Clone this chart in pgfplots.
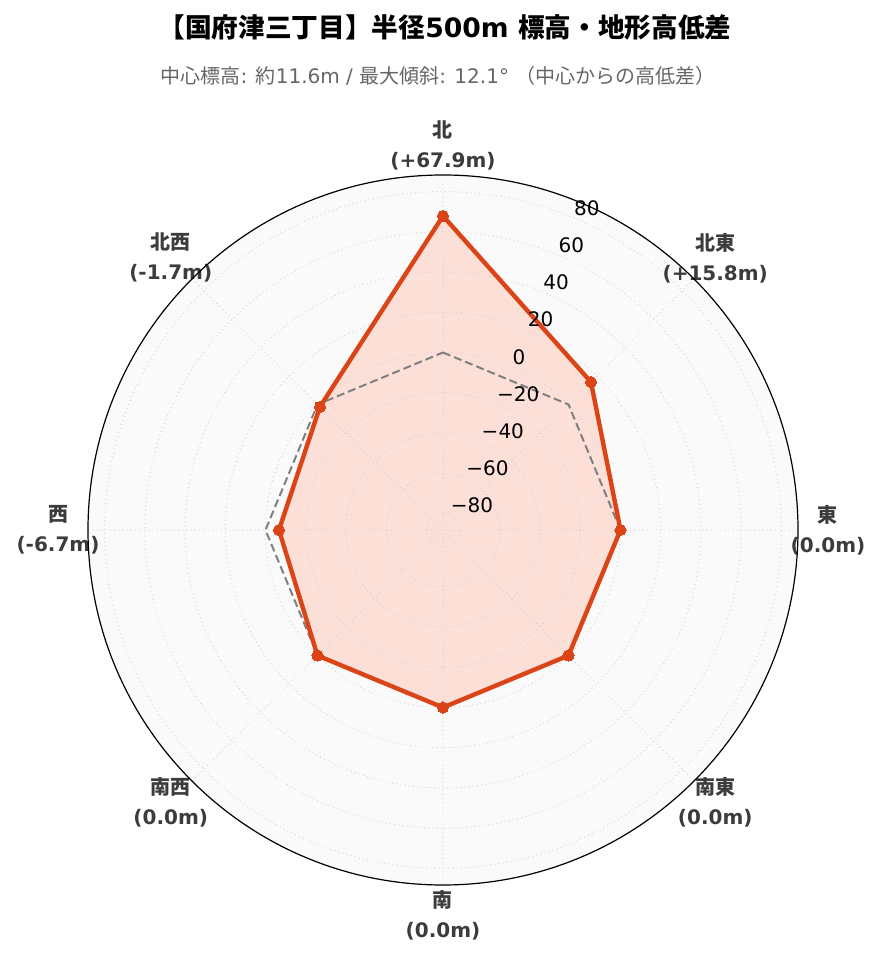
\documentclass[border=0pt]{standalone}
\usepackage{pgfplots}
\pgfplotsset{compat=1.18}
\usepackage{pgfplotstable}
\usepgfplotslibrary{polar}
\usepackage{fontspec}
\setmainfont{DejaVu Sans}
\newfontfamily\cjk{Noto Sans CJK JP}
\newcommand\J[1]{{\cjk #1}}
\definecolor{lineR}{RGB}{218,68,22}
\definecolor{fillR}{RGB}{252,224,216}
\definecolor{lab}{RGB}{60,60,60}
\definecolor{sub}{RGB}{102,102,102}
\definecolor{bg}{RGB}{250,250,250}
\definecolor{gridc}{RGB}{205,205,205}

\pgfplotstableread{
ang d
90 67.9
45 15.8
0 0.0
315 0.0
270 0.0
225 0.0
180 -6.7
135 -1.7
}\elev

\pgfplotstableread{
ang d
90 0
45 0
0 0
315 0
270 0
225 0
180 0
135 0
}\base

\pgfplotsset{radar/.style={
  at={(0,0)}, anchor=center,
  scale only axis, width=532.5pt, height=532.5pt,
  xmin=0, xmax=360, ymin=0, ymax=176.54,
  xtick={0,45,90,135,180,225,270,315}, xticklabels={},
  ytick={8.27,28.27,48.27,68.27,88.27,108.27,128.27,148.27,168.27}, yticklabels={},
  axis line style={draw=none},
  major tick length=0pt,
  clip=false,
}}

\tikzset{rl/.style={anchor=south west, inner sep=1pt, font=\fontsize{15}{18}\selectfont},
         dl/.style={align=center, text=lab, font=\fontsize{15}{22.5}\selectfont\bfseries}}

\begin{document}
\begin{tikzpicture}
\path[use as bounding box] (-332.25pt,397.5pt) rectangle (327.75pt,-324pt);
\fill[bg] (0,0) circle[radius=266.25pt];
\begin{polaraxis}[radar, grid=none, xtick=\empty, ytick=\empty]
\addplot[draw=none, fill=fillR] table[x=ang, y expr=\thisrow{d}+88.27] {\elev} -- cycle;
\end{polaraxis}
\begin{polaraxis}[radar,
  grid=major,
  major grid style={color=gridc, line width=0.85pt, line cap=round, dash pattern=on 0pt off 3.2pt},
]
\addplot[color=black!50, line width=1.5pt, dash pattern=on 6pt off 3pt] table[x=ang, y expr=\thisrow{d}+88.27] {\base} -- cycle;
\addplot[color=lineR, line width=3.3pt, line join=round, mark=*, mark size=4.2pt, mark options={solid, fill=lineR, draw=lineR, line width=0pt}] table[x=ang, y expr=\thisrow{d}+88.27] {\elev} -- cycle;

\node[rl] at (axis cs:67.5,8.27) {−80};
\node[rl] at (axis cs:67.5,28.27) {−60};
\node[rl] at (axis cs:67.5,48.27) {−40};
\node[rl] at (axis cs:67.5,68.27) {−20};
\node[rl] at (axis cs:67.5,88.27) {0};
\node[rl] at (axis cs:67.5,108.27) {20};
\node[rl] at (axis cs:67.5,128.27) {40};
\node[rl] at (axis cs:67.5,148.27) {60};
\node[rl] at (axis cs:67.5,168.27) {80};

\node[dl] at (axis cs:90,191.45) {\J{北}\\(+67.9m)};
\node[dl] at (axis cs:45,191.45) {\J{北東}\\(+15.8m)};
\node[dl] at (axis cs:0,191.45) {\J{東}\\(0.0m)};
\node[dl] at (axis cs:315,191.45) {\J{南東}\\(0.0m)};
\node[dl] at (axis cs:270,191.45) {\J{南}\\(0.0m)};
\node[dl] at (axis cs:225,191.45) {\J{南西}\\(0.0m)};
\node[dl] at (axis cs:180,191.45) {\J{西}\\(-6.7m)};
\node[dl] at (axis cs:135,191.45) {\J{北西}\\(-1.7m)};
\end{polaraxis}
\draw[black, line width=0.9pt] (0,0) circle[radius=266.25pt];
\node[font=\fontsize{20}{24}\selectfont\bfseries] at (1.5pt,377.25pt) {\J{【国府津三丁目】半径}500m \J{標高・地形高低差}};
\node[text=sub, font=\fontsize{15}{18}\selectfont] at (-3.75pt,340.5pt) {\J{中心標高}: \J{約}11.6m / \J{最大傾斜}: 12.1° \J{（中心からの高低差）}};
\end{tikzpicture}
\end{document}
